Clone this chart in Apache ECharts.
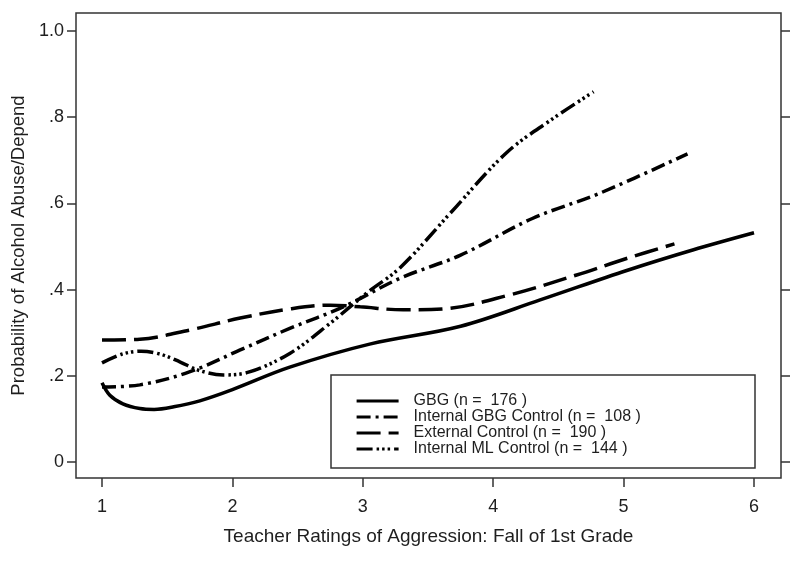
<!DOCTYPE html>
<html>
<head>
<meta charset="utf-8">
<script src="https://cdn.jsdelivr.net/npm/echarts@6/dist/echarts.min.js"></script>
<style>html,body{margin:0;padding:0;background:#fff}#c{width:800px;height:565px}</style>
</head>
<body>
<div id="c"></div>
<script>
// ---- data ----
const seriesNames = ['GBG (n =  176 )', 'Internal GBG Control (n =  108 )', 'External Control (n =  190 )', 'Internal ML Control (n =  144 )'];
const xTicks = [1, 2, 3, 4, 5, 6];
const yTicks = [0, 0.2, 0.4, 0.6, 0.8, 1.0];

const gbgX = [1.0, 1.06, 1.16, 1.29, 1.4, 1.55, 1.75, 2.0, 2.44, 3.06, 3.75, 4.36, 5.03, 5.53, 6.0];
const gbgY = [0.184, 0.155, 0.135, 0.124, 0.122, 0.128, 0.142, 0.168, 0.22, 0.274, 0.315, 0.376, 0.445, 0.492, 0.532];

const intGbgX = [1.0, 1.29, 1.67, 2.06, 2.44, 2.85, 3.29, 3.75, 4.3, 4.82, 5.49];
const intGbgY = [0.174, 0.179, 0.209, 0.26, 0.31, 0.36, 0.427, 0.48, 0.565, 0.624, 0.715];

const extX = [1.0, 1.29, 1.67, 2.06, 2.44, 2.75, 2.98, 3.31, 3.61, 4.13, 4.64, 5.03, 5.39];
const extY = [0.283, 0.285, 0.306, 0.334, 0.355, 0.364, 0.36, 0.353, 0.355, 0.388, 0.434, 0.473, 0.506];

const mlX = [1.0, 1.15, 1.3, 1.45, 1.6, 1.75, 1.93, 2.13, 2.44, 2.75, 3.03, 3.29, 3.67, 4.1, 4.44, 4.77];
const mlY = [0.23, 0.25, 0.257, 0.25, 0.232, 0.212, 0.202, 0.209, 0.252, 0.322, 0.392, 0.452, 0.577, 0.717, 0.793, 0.859];

// ---- chart ----
const pairs = (xs, ys) => xs.map((x, i) => [x, ys[i]]);
const FONT = '"Liberation Sans", Arial, sans-serif';
const INK = '#1e1e1e';
const FRAME = '#333';

const styles = [
  { type: 'solid' },
  { type: [14, 5, 3, 5] },
  { type: [24, 8] },
  { type: [16, 4, 2.5, 3, 2.5, 3, 2.5, 4] }
];
const datas = [pairs(gbgX, gbgY), pairs(intGbgX, intGbgY), pairs(extX, extY), pairs(mlX, mlY)];

const chart = echarts.init(document.getElementById('c'), null, { renderer: 'canvas' });
chart.setOption({
  animation: false,
  backgroundColor: '#fff',
  textStyle: { fontFamily: FONT, color: INK },
  grid: { left: 76, top: 13, width: 705, height: 465, show: true, borderColor: FRAME, borderWidth: 1.5, backgroundColor: 'transparent' },
  xAxis: {
    type: 'value', min: 0.8006, max: 6.207,
    name: 'Teacher Ratings of Aggression: Fall of 1st Grade',
    nameLocation: 'middle', nameGap: 49,
    nameTextStyle: { fontSize: 19, color: INK, fontFamily: FONT },
    axisLine: { show: false, onZero: false },
    axisTick: { show: true, length: 9, customValues: xTicks, lineStyle: { color: FRAME, width: 1.5 } },
    axisLabel: { customValues: xTicks, margin: 20, fontSize: 18, color: INK, fontFamily: FONT },
    splitLine: { show: false }
  },
  yAxis: [{
    type: 'value', min: -0.0371, max: 1.0418, position: 'left',
    name: 'Probability of Alcohol Abuse/Depend',
    nameLocation: 'middle', nameGap: 43,
    nameTextStyle: { fontSize: 18.5, color: INK, fontFamily: FONT },
    axisLine: { show: false, onZero: false },
    axisTick: { show: true, length: 9, customValues: yTicks, lineStyle: { color: FRAME, width: 1.5 } },
    axisLabel: {
      customValues: yTicks, margin: 12, fontSize: 18, color: INK, fontFamily: FONT,
      formatter: v => v === 0 ? '0' : (Math.abs(v - 1) < 1e-9 ? '1.0' : '.' + Math.round(v * 10))
    },
    splitLine: { show: false }
  }, {
    type: 'value', min: -0.0371, max: 1.0418, position: 'right',
    axisLine: { show: false, onZero: false },
    axisTick: { show: true, length: 9, customValues: yTicks, lineStyle: { color: FRAME, width: 1.5 } },
    axisLabel: { show: false },
    splitLine: { show: false }
  }],
  legend: {
    orient: 'vertical', left: 350, top: 388,
    itemWidth: 42, itemHeight: 12, itemGap: 0,
    itemStyle: { color: 'rgba(0,0,0,0)', borderWidth: 0, opacity: 0 },
    lineStyle: { width: 3.2, color: '#000' },
    textStyle: { fontSize: 16, lineHeight: 16, color: INK, fontFamily: FONT, padding: [0, 0, 0, 10] },
    data: seriesNames
  },
  graphic: [{
    type: 'rect', z: 0, zlevel: 0,
    shape: { x: 331, y: 375, width: 424, height: 93 },
    style: { fill: '#fff', stroke: FRAME, lineWidth: 1.5 }
  }],
  series: seriesNames.map((name, i) => ({
    name, type: 'line', data: datas[i], smooth: 0.35,
    symbol: 'none', showSymbol: false, yAxisIndex: 0,
    lineStyle: { color: '#000', width: 3.5, type: styles[i].type, cap: 'butt' },
    itemStyle: { color: '#000' },
    z: 3
  }))
});
</script>
</body>
</html>
